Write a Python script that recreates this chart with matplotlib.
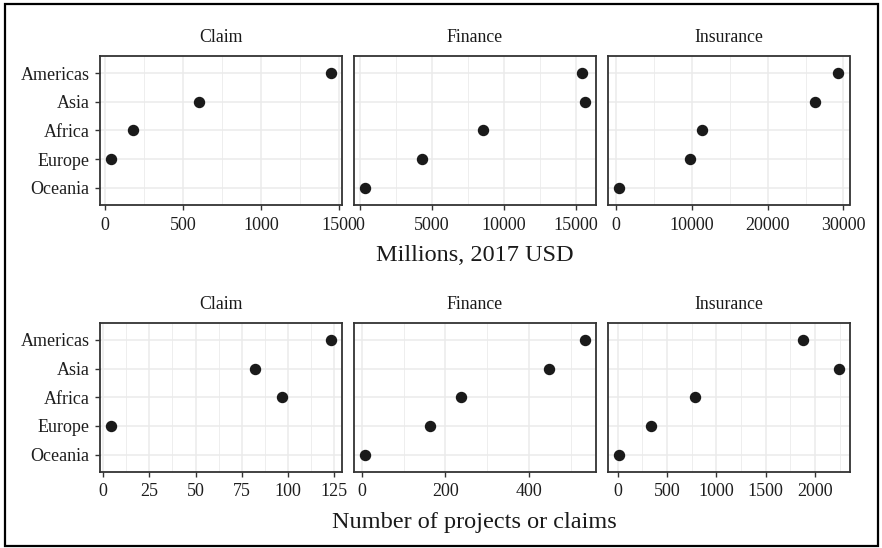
import numpy as np
import matplotlib
matplotlib.use("Agg")
import matplotlib.pyplot as plt
from matplotlib.patches import Rectangle

plt.rcParams["font.family"] = ["Liberation Serif", "DejaVu Serif"]

# Regions, top to bottom
regions = ["Americas", "Asia", "Africa", "Europe", "Oceania"]
facets = ["Claim", "Finance", "Insurance"]

# Money committed, millions of 2017 USD (NaN = no record)
usd_claim = [1445, 600, 183, 36, np.nan]
usd_finance = [15437, 15625, 8590, 4326, 326]
usd_insurance = [29344, 26286, 11325, 9737, 341]

# Number of projects or claims
count_claim = [123, 82, 97, 4, np.nan]
count_finance = [533, 447, 236, 162, 6]
count_insurance = [1879, 2239, 782, 343, 10]

# Axis breaks per facet
usd_ticks_claim = [0, 500, 1000, 1500]
usd_ticks_finance = [0, 5000, 10000, 15000]
usd_ticks_insurance = [0, 10000, 20000, 30000]
count_ticks_claim = [0, 25, 50, 75, 100, 125]
count_ticks_finance = [0, 200, 400]
count_ticks_insurance = [0, 500, 1000, 1500, 2000]

rows = [
    {
        "values": [usd_claim, usd_finance, usd_insurance],
        "ticks": [usd_ticks_claim, usd_ticks_finance, usd_ticks_insurance],
        "title": "Millions, 2017 USD",
        "top": 56,
    },
    {
        "values": [count_claim, count_finance, count_insurance],
        "ticks": [count_ticks_claim, count_ticks_finance, count_ticks_insurance],
        "title": "Number of projects or claims",
        "top": 322.7,
    },
]

W, H = 882, 548
fig = plt.figure(figsize=(W / 100, H / 100), dpi=100)
fig.patch.set_facecolor("white")

panel_left = [99.5, 353.5, 607.5]
panel_w = 242
panel_h = 149
grid_col = "#ebebeb"
dark = "#333333"
ypos = np.arange(len(regions))[::-1] + 1  # Americas on top

for row in rows:
    for j, (vals, ticks, name) in enumerate(zip(row["values"], row["ticks"], facets)):
        x0 = panel_left[j]
        ax = fig.add_axes([x0 / W, (H - row["top"] - panel_h) / H, panel_w / W, panel_h / H])
        v = np.array(vals, dtype=float)
        lo, hi = np.nanmin(v), np.nanmax(v)
        span = hi - lo
        xmin, xmax = lo - 0.05 * span, hi + 0.05 * span

        step = ticks[1] - ticks[0]
        minors = [t + step / 2 for t in [ticks[0] - step] + list(ticks)]
        minors = [m for m in minors if xmin <= m <= xmax]
        ax.set_xticks(ticks)
        ax.set_xticklabels([f"{t:g}" for t in ticks])
        ax.set_xticks(minors, minor=True)
        ax.set_yticks(ypos)
        ax.set_yticklabels(regions if j == 0 else [])
        ax.set_xlim(xmin, xmax)
        ax.set_ylim(0.4, len(regions) + 0.6)

        ax.grid(True, which="major", color=grid_col, linewidth=1.1, zorder=0)
        ax.grid(True, which="minor", axis="x", color=grid_col, linewidth=0.6, zorder=0)
        ax.set_axisbelow(True)

        ax.tick_params(axis="x", which="major", length=3.8, width=1.0, color=dark,
                       pad=4.5, labelsize=13, labelcolor="#1e1e1e")
        ax.tick_params(axis="x", which="minor", length=0)
        ax.tick_params(axis="y", length=3.8 if j == 0 else 0, width=1.0, color=dark,
                       pad=3.5, labelsize=13, labelcolor="#1e1e1e")
        for s in ax.spines.values():
            s.set_color(dark)
            s.set_linewidth(1.3)

        ax.plot(v, ypos, "o", color="#1a1a1a", markersize=7.2, linestyle="none", zorder=3)
        ax.text(0.5, 1 + 18 / panel_h, name, transform=ax.transAxes,
                ha="center", va="center", fontsize=12.8, color="#1a1a1a")

    title_y = row["top"] + panel_h + 50.7
    fig.text((panel_left[0] + panel_left[2] + panel_w) / 2 / W, 1 - title_y / H,
             row["title"], ha="center", va="center", fontsize=17.5, color="#1a1a1a")

# Frame around the whole figure
fig.patches.append(Rectangle((5 / W, 2.5 / H), 873 / W, 541.5 / H,
                             transform=fig.transFigure, fill=False,
                             edgecolor="black", linewidth=1.6))

fig.savefig("out.png", dpi=100)
